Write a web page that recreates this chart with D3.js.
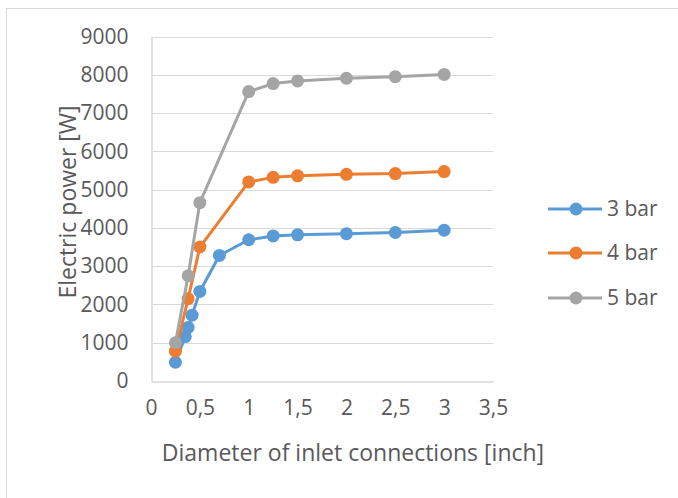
<!DOCTYPE html>
<html lang="en">
<head>
    <meta charset="UTF-8">
    <title>Electric power vs inlet diameter</title>
    <script src="https://d3js.org/d3.v7.min.js"></script>
    <style>
        body { margin: 0; background: #fff; }
        svg text { font-family: "Open Sans", sans-serif; fill: #595959; }
        .grid line { stroke: #d9d9d9; stroke-width: 1px; }
        .series { fill: none; stroke-width: 3px; stroke-linejoin: round; }
    </style>
</head>
<body>
    <svg id="chart" width="678" height="498"></svg>

    <script>
        // data
        const xTicks = [0, 0.5, 1, 1.5, 2, 2.5, 3, 3.5];
        const yTicks = [0, 1000, 2000, 3000, 4000, 5000, 6000, 7000, 8000, 9000];

        const x3bar = [0.25, 0.35, 0.38, 0.42, 0.5, 0.7, 1, 1.25, 1.5, 2, 2.5, 3];
        const y3bar = [490, 1160, 1400, 1720, 2340, 3280, 3690, 3790, 3820, 3850, 3880, 3940];

        const x4bar = [0.25, 0.38, 0.5, 1, 1.25, 1.5, 2, 2.5, 3];
        const y4bar = [780, 2150, 3500, 5200, 5320, 5360, 5400, 5420, 5470];

        const x5bar = [0.25, 0.38, 0.5, 1, 1.25, 1.5, 2, 2.5, 3];
        const y5bar = [1000, 2750, 4660, 7560, 7770, 7840, 7910, 7950, 8010];

        const seriesNames = ["3 bar", "4 bar", "5 bar"];
        const colors = ["#5b9bd5", "#ed7d31", "#a5a5a5"];

        const series = [
            { name: seriesNames[0], color: colors[0], pts: x3bar.map((v, i) => [v, y3bar[i]]) },
            { name: seriesNames[1], color: colors[1], pts: x4bar.map((v, i) => [v, y4bar[i]]) },
            { name: seriesNames[2], color: colors[2], pts: x5bar.map((v, i) => [v, y5bar[i]]) }
        ];

        const svg = d3.select("#chart");

        // outer chart frame (only top/left visible in the picture)
        svg.append("rect")
            .attr("x", 6.5).attr("y", 8.5)
            .attr("width", 700).attr("height", 520)
            .attr("fill", "none")
            .attr("stroke", "#d9d9d9");

        const plotLeft = 151, plotRight = 493, plotTop = 36.5, plotBottom = 381;

        const x = d3.scaleLinear().domain([0, 3.5]).range([plotLeft, plotRight]);
        const y = d3.scaleLinear().domain([0, 9000]).range([plotBottom, plotTop]);

        // horizontal gridlines
        svg.append("g")
            .attr("class", "grid")
            .selectAll("line")
            .data(yTicks.filter(d => d > 0))
            .join("line")
            .attr("x1", plotLeft).attr("x2", plotRight)
            .attr("y1", d => Math.round(y(d)) + 0.5)
            .attr("y2", d => Math.round(y(d)) + 0.5);

        // axes
        const fmt = d => String(d).replace(".", ",");

        const xAxis = svg.append("g")
            .attr("transform", `translate(0,${Math.round(plotBottom) + 0.5})`)
            .call(d3.axisBottom(x).tickValues(xTicks).tickFormat(fmt).tickSize(0).tickPadding(19));
        xAxis.select(".domain").attr("stroke", "#d9d9d9").attr("stroke-width", 1.5);

        const yAxis = svg.append("g")
            .attr("transform", `translate(${plotLeft + 0.5},0)`)
            .call(d3.axisLeft(y).tickValues(yTicks).tickFormat(d3.format("d")).tickSize(0).tickPadding(23));
        yAxis.select(".domain").attr("stroke", "#d9d9d9").attr("stroke-width", 1.5);

        svg.selectAll(".tick text")
            .style("font-size", "21px")
            .attr("fill", "#595959");

        // axis titles
        svg.append("text")
            .attr("x", 353).attr("y", 461)
            .attr("text-anchor", "middle")
            .style("font-size", "23px")
            .text("Diameter of inlet connections [inch]");

        svg.append("text")
            .attr("transform", "translate(76,202) rotate(-90)")
            .attr("text-anchor", "middle")
            .style("font-size", "23px")
            .text("Electric power [W]");

        // lines and markers
        const line = d3.line().x(d => x(d[0])).y(d => y(d[1]));

        series.forEach(s => {
            svg.append("path")
                .attr("class", "series")
                .attr("stroke", s.color)
                .attr("d", line(s.pts));
            svg.append("g")
                .selectAll("circle")
                .data(s.pts)
                .join("circle")
                .attr("cx", d => x(d[0]))
                .attr("cy", d => y(d[1]))
                .attr("r", 6.5)
                .attr("fill", s.color);
        });

        // legend
        const legendY = [209, 253, 298];
        series.forEach((s, i) => {
            const g = svg.append("g").attr("transform", `translate(0,${legendY[i]})`);
            g.append("line")
                .attr("x1", 548).attr("x2", 602)
                .attr("stroke", s.color).attr("stroke-width", 3);
            g.append("circle")
                .attr("cx", 576).attr("r", 6.5).attr("fill", s.color);
            g.append("text")
                .attr("x", 607).attr("dy", "0.35em")
                .style("font-size", "21px")
                .text(s.name);
        });
    </script>
</body>
</html>
